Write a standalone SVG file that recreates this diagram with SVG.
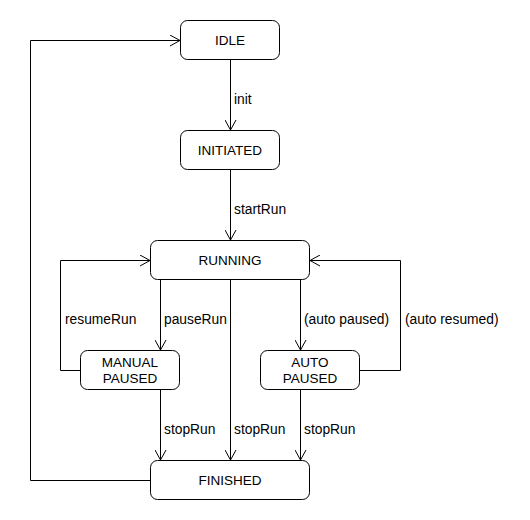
<svg xmlns="http://www.w3.org/2000/svg" width="530" height="520" viewBox="0 0 530 520">
<defs>
<style>
.node rect{fill:#fff;stroke:#000;stroke-width:1}
.node text{font-family:"Liberation Sans",Arial,sans-serif;font-size:13.5px;text-anchor:middle;fill:#000}
.edges path{fill:none;stroke:#000;stroke-width:1;marker-end:url(#arr)}
.lbl{font-family:"Liberation Sans",Arial,sans-serif;font-size:13.8px;fill:#000}
</style>
<marker id="arr" markerWidth="12" markerHeight="12" refX="10" refY="6" orient="auto" markerUnits="userSpaceOnUse">
<path d="M0,0.5 L10,6 L0,11.5" fill="none" stroke="#000" stroke-width="1"/>
</marker>
</defs>
<rect width="530" height="520" fill="#fff"/>
<g class="edges">
<path d="M230.5,60 V130"/>
<path d="M230.5,170 V240"/>
<path d="M150,480.5 H30.5 V40.5 H180"/>
<path d="M160.5,280 V350"/>
<path d="M80,370.5 H60.5 V260.5 H150"/>
<path d="M230.5,280 V460"/>
<path d="M160.5,390 V460"/>
<path d="M300.5,280 V350"/>
<path d="M360,370.5 H400.5 V260.5 H310"/>
<path d="M300.5,390 V460"/>
<text class="lbl" x="234" y="104">init</text>
<text class="lbl" x="234" y="214">startRun</text>
<text class="lbl" x="65" y="324">resumeRun</text>
<text class="lbl" x="164" y="324">pauseRun</text>
<text class="lbl" x="304" y="324">(auto paused)</text>
<text class="lbl" x="405" y="324">(auto resumed)</text>
<text class="lbl" x="164" y="434">stopRun</text>
<text class="lbl" x="234" y="434">stopRun</text>
<text class="lbl" x="304" y="434">stopRun</text>
</g>
<g id="idle" class="node"><rect x="180.5" y="20.5" width="99" height="39" rx="7"/><text x="230" y="45">IDLE</text></g>
<g id="initiated" class="node"><rect x="180.5" y="130.5" width="99" height="39" rx="7"/><text x="230" y="155">INITIATED</text></g>
<g id="running" class="node"><rect x="150.5" y="240.5" width="159" height="39" rx="7"/><text x="230" y="265">RUNNING</text></g>
<g id="manual" class="node"><rect x="80.5" y="350.5" width="99" height="39" rx="7"/><text x="130" y="367">MANUAL</text><text x="130" y="383">PAUSED</text></g>
<g id="auto" class="node"><rect x="260.5" y="350.5" width="99" height="39" rx="7"/><text x="310" y="367">AUTO</text><text x="310" y="383">PAUSED</text></g>
<g id="finished" class="node"><rect x="150.5" y="460.5" width="159" height="39" rx="7"/><text x="230" y="485">FINISHED</text></g>
</svg>
